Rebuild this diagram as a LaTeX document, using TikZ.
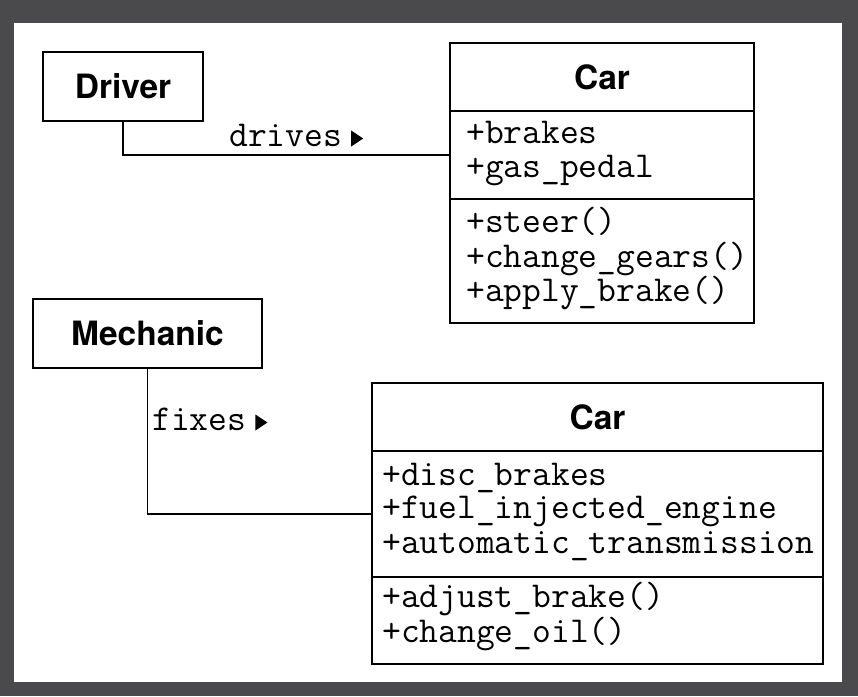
\documentclass[tikz,border=0pt]{standalone}
\usepackage{fontspec}
\newfontfamily\headfont{TeX Gyre Heros}
\definecolor{bgdark}{HTML}{4A4A4C}
\tikzset{
  box/.style={draw=black, line width=1.6pt, fill=white, inner sep=0pt},
  ttl/.style={font=\headfont\bfseries\fontsize{33.5}{33.5}\selectfont},
  mono/.style={anchor=base west, inner sep=0pt, font=\ttfamily\fontsize{36.5}{36.5}\selectfont},
  conn/.style={draw=black, line width=1.8pt},
  tri/.style={fill=black},
}
\begin{document}
\begin{tikzpicture}[x=1pt,y=-1pt]
\useasboundingbox (0,0) rectangle (858,696);
\fill[bgdark] (0,0) rectangle (858,696);
\fill[white] (14,23) rectangle (842,682);

% Driver / Car 1
\node[box, ttl, minimum width=160pt, minimum height=69pt] (driver) at (123,86.5) {Driver};
\node[box, ttl, minimum width=304pt, minimum height=68pt] (car1t) at (602,77) {Car};
\node[box, minimum width=304pt, minimum height=88pt] (car1a) at (602,155) {};
\node[box, minimum width=304pt, minimum height=124pt] (car1m) at (602,261) {};

\node[mono] (c1a1) at (466,143) {+brakes};
\node[mono] (c1a2) at (466,177) {+gas\_pedal};
\node[mono] (c1m1) at (466,232) {+steer()};
\node[mono] (c1m2) at (466,267) {+change\_gears()};
\node[mono] (c1m3) at (466,301) {+apply\_brake()};

\draw[conn] (driver.south) |- (car1a.west);
\node[mono] (drives) at (229,146) {drives};
\fill[tri] ([xshift=9pt,yshift=-0.5pt]drives.base east) -- ++(0,-16) -- ++(12,8) -- cycle;

% Mechanic / Car 2
\node[box, ttl, minimum width=229pt, minimum height=69pt] (mechanic) at (147.5,333.5) {Mechanic};
\node[box, ttl, minimum width=451pt, minimum height=68pt] (car2t) at (597.5,417) {Car};
\node[box, minimum width=451pt, minimum height=126pt] (car2a) at (597.5,514) {};
\node[box, minimum width=451pt, minimum height=87pt] (car2m) at (597.5,620.5) {};

\node[mono] (c2a1) at (382,485) {+disc\_brakes};
\node[mono] (c2a2) at (382,518) {+fuel\_injected\_engine};
\node[mono] (c2a3) at (382,553) {+automatic\_transmission};
\node[mono] (c2m1) at (382,607) {+adjust\_brake()};
\node[mono] (c2m2) at (382,642) {+change\_oil()};

\draw[conn] (mechanic.south) |- (car2a.west);
\node[mono] (fixes) at (152,430) {fixes};
\fill[tri] ([xshift=9pt,yshift=-0.5pt]fixes.base east) -- ++(0,-16) -- ++(12,8) -- cycle;
\end{tikzpicture}
\end{document}
